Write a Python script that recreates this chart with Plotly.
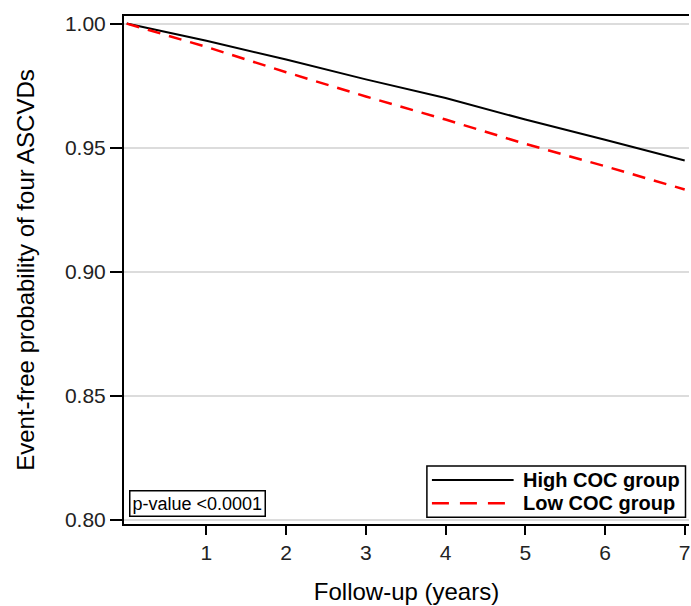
import plotly.graph_objects as go

# Data
years = [0, 1, 2, 3, 4, 5, 6, 7]
high_coc = [1.0, 0.9931, 0.9855, 0.9775, 0.9700, 0.9613, 0.9532, 0.9448]
low_coc = [1.0, 0.9906, 0.9804, 0.9706, 0.9613, 0.9515, 0.9425, 0.9331]
series_names = ["High COC group", "Low COC group"]
x_ticks = [1, 2, 3, 4, 5, 6, 7]
y_ticks = [0.80, 0.85, 0.90, 0.95, 1.00]
y_tick_labels = ["0.80", "0.85", "0.90", "0.95", "1.00"]

FONT = "Liberation Sans, Arial, sans-serif"
styles = [dict(color="black", width=2), dict(color="#ff0000", width=2.5, dash="13px,9px")]

fig = go.Figure()
for name, vals, st in zip(series_names, [high_coc, low_coc], styles):
    fig.add_trace(go.Scatter(x=years, y=vals, mode="lines", name=name,
                             line=st, showlegend=False))

# p-value box
fig.add_annotation(
    text="p-value <0.0001", xref="paper", yref="paper",
    x=0.0094, y=0.013, xanchor="left", yanchor="bottom", showarrow=False,
    font=dict(family=FONT, size=18, color="black"),
    bordercolor="black", borderwidth=1.5, borderpad=2, bgcolor="white",
)

# Legend (drawn to match the reference's compact box)
fig.add_shape(type="rect", xref="paper", yref="paper",
              x0=0.5361, x1=0.9938, y0=0.0132, y1=0.1142,
              line=dict(color="black", width=1.5), fillcolor="white", layer="above")
legend_y = [0.0866, 0.0407]
legend_dash = [None, "17px,11px"]
for name, st, ly, dsh in zip(series_names, styles, legend_y, legend_dash):
    ln = dict(color=st["color"], width=st["width"])
    if dsh:
        ln["dash"] = dsh
    fig.add_shape(type="line", xref="paper", yref="paper",
                  x0=0.5450, x1=0.6896, y0=ly, y1=ly, line=ln, layer="above")
    fig.add_annotation(text="<b>" + name + "</b>", xref="paper", yref="paper",
                       x=0.7030, y=ly, xanchor="left", yanchor="middle", showarrow=False,
                       font=dict(family=FONT, size=20, color="black"))

fig.update_layout(
    width=691, height=606,
    margin=dict(l=124, r=0, t=16, b=82),
    paper_bgcolor="white", plot_bgcolor="white",
    font=dict(family=FONT, color="black"),
    showlegend=False,
)
fig.update_xaxes(
    range=[-0.034, 7.054], tickvals=x_ticks, ticktext=[str(v) for v in x_ticks],
    showgrid=False, zeroline=False,
    showline=True, linecolor="black", linewidth=2, mirror=True,
    ticks="outside", ticklen=9, tickwidth=2, tickcolor="black",
    ticklabeloverflow="allow",
    tickfont=dict(family=FONT, size=21, color="#222"),
    title=dict(text="Follow-up (years)", font=dict(family=FONT, size=24, color="black"), standoff=20),
)
fig.update_yaxes(
    range=[0.79823, 1.00306], tickvals=y_ticks, ticktext=y_tick_labels,
    showgrid=True, gridcolor="#dcdcdc", gridwidth=2, zeroline=False,
    showline=True, linecolor="black", linewidth=2, mirror=False,
    ticks="outside", ticklen=12, tickwidth=2, tickcolor="black",
    tickfont=dict(family=FONT, size=21, color="#222"),
    title=dict(text="Event-free probability of four ASCVDs", font=dict(family=FONT, size=24, color="black"), standoff=24),
)

fig.write_html("out.html", config={"displayModeBar": False},
               post_script="document.body.style.margin='0';")
